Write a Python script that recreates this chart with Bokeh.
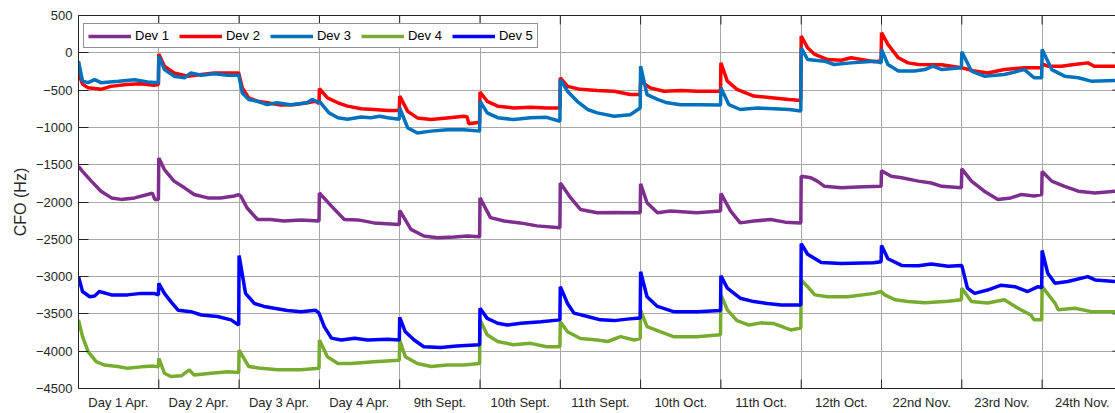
from bokeh.plotting import figure
from bokeh.models import (FixedTicker, LinearAxis, Legend, LegendItem, Range1d)
from bokeh.embed import file_html
from bokeh.resources import INLINE

# Measurement sessions (one band per capture day)
day_labels = ["Day 1 Apr.", "Day 2 Apr.", "Day 3 Apr.", "Day 4 Apr.", "9th Sept.",
              "10th Sept.", "11th Sept.", "10th Oct.", "11th Oct.", "12th Oct.",
              "22nd Nov.", "23rd Nov.", "24th Nov."]

# Time axis is in session units: session k spans [k, k+1)
dev1_t = [0, 0.05, 0.16, 0.28, 0.41, 0.53, 0.7, 0.86, 0.92, 0.95, 0.995,
          1.0, 1.07, 1.19, 1.32, 1.44, 1.61, 1.77, 1.94, 1.995,
          2.02, 2.1, 2.23, 2.39, 2.56, 2.77, 2.995,
          3.0, 3.15, 3.31, 3.48, 3.68, 3.995,
          4.0, 4.14, 4.3, 4.47, 4.68, 4.84, 4.995,
          5.0, 5.13, 5.3, 5.5, 5.71, 5.995,
          6.0, 6.13, 6.25, 6.46, 6.67, 6.995,
          7.0, 7.08, 7.21, 7.37, 7.7, 7.995,
          8.0, 8.12, 8.24, 8.41, 8.62, 8.8, 8.995,
          9.0, 9.12, 9.2, 9.29, 9.5, 9.7, 9.995,
          10.0, 10.12, 10.25, 10.46, 10.62, 10.75, 10.995,
          11.0, 11.12, 11.28, 11.45, 11.61, 11.74, 11.9, 11.995,
          12.0, 12.12, 12.28, 12.45, 12.66, 12.91]
dev1_cfo = [-1522, -1590, -1720, -1855, -1945, -1965, -1945, -1900, -1880, -1965, -1965,
            -1410, -1565, -1720, -1810, -1900, -1945, -1945, -1920, -1900,
            -1920, -2080, -2235, -2235, -2255, -2240, -2255,
            -1880, -2055, -2235, -2240, -2280, -2300,
            -2113, -2367, -2455, -2480, -2470, -2455, -2465,
            -1945, -2210, -2255, -2280, -2320, -2345,
            -1745, -1945, -2100, -2145, -2140, -2145,
            -1755, -2010, -2145, -2120, -2145, -2120,
            -1885, -2120, -2280, -2255, -2235, -2270, -2280,
            -1655, -1675, -1720, -1790, -1810, -1800, -1790,
            -1580, -1655, -1675, -1720, -1745, -1790, -1810,
            -1555, -1720, -1855, -1965, -1945, -1900, -1920, -1900,
            -1590, -1720, -1790, -1855, -1880, -1855]

dev2_t = [0, 0.05, 0.12, 0.28, 0.4, 0.6, 0.77, 0.94, 0.995,
          1.0, 1.07, 1.19, 1.36, 1.53, 1.69, 1.86, 1.995,
          2.04, 2.12, 2.23, 2.35, 2.52, 2.68, 2.85, 2.95, 2.995,
          3.0, 3.1, 3.23, 3.35, 3.52, 3.68, 3.85, 3.995,
          4.0, 4.1, 4.22, 4.39, 4.59, 4.8, 4.84, 4.86, 4.995,
          5.0, 5.09, 5.22, 5.42, 5.63, 5.83, 5.995,
          6.0, 6.09, 6.25, 6.46, 6.67, 6.87, 6.995,
          7.0, 7.12, 7.29, 7.5, 7.71, 7.995,
          8.0, 8.08, 8.2, 8.41, 8.66, 8.85, 8.995,
          9.0, 9.08, 9.17, 9.33, 9.5, 9.62, 9.75, 9.91, 9.995,
          10.0, 10.08, 10.21, 10.33, 10.46, 10.75, 10.995,
          11.0, 11.16, 11.32, 11.53, 11.78, 11.995,
          12.0, 12.07, 12.24, 12.4, 12.57, 12.65, 12.91]
dev2_cfo = [-270, -420, -470, -490, -450, -425, -415, -435, -425,
            -15, -180, -270, -313, -290, -270, -270, -270,
            -470, -605, -650, -670, -700, -695, -670, -650, -680,
            -480, -605, -670, -715, -750, -760, -775, -775,
            -580, -785, -873, -895, -873, -850, -860, -950, -930,
            -525, -650, -715, -740, -730, -740, -740,
            -335, -450, -490, -505, -515, -560, -560,
            -380, -470, -515, -505, -515, -515,
            -135, -380, -490, -580, -605, -625, -640,
            225, 67, -22, -90, -100, -67, -90, -120, -110,
            270, 112, -67, -135, -157, -160, -200,
            -200, -245, -270, -225, -200, -200,
            -150, -180, -180, -157, -135, -180, -180]

dev3_t = [0, 0.05, 0.12, 0.2, 0.28, 0.5, 0.7, 0.86, 0.995,
          1.0, 1.07, 1.19, 1.32, 1.4, 1.53, 1.69, 1.86, 1.995,
          2.04, 2.12, 2.23, 2.35, 2.47, 2.64, 2.85, 2.91, 2.995,
          3.0, 3.12, 3.23, 3.35, 3.52, 3.64, 3.75, 3.85, 3.995,
          4.0, 4.1, 4.22, 4.39, 4.59, 4.8, 4.995,
          5.0, 5.09, 5.22, 5.42, 5.63, 5.83, 5.995,
          6.0, 6.09, 6.21, 6.34, 6.46, 6.67, 6.87, 6.995,
          7.0, 7.08, 7.21, 7.33, 7.5, 7.71, 7.995,
          8.0, 8.1, 8.24, 8.45, 8.66, 8.85, 8.995,
          9.0, 9.08, 9.29, 9.41, 9.62, 9.91, 9.995,
          10.0, 10.08, 10.21, 10.41, 10.54, 10.64, 10.75, 10.995,
          11.0, 11.12, 11.28, 11.53, 11.7, 11.78, 11.9, 11.995,
          12.0, 12.12, 12.28, 12.45, 12.61, 12.91]
dev3_cfo = [-112, -380, -400, -360, -400, -380, -360, -390, -400,
            -45, -225, -313, -335, -270, -300, -280, -300, -300,
            -540, -625, -650, -695, -670, -695, -670, -625, -670,
            -650, -805, -870, -890, -860, -870, -850, -870, -890,
            -740, -1007, -1075, -1050, -1030, -1030, -1050,
            -650, -805, -870, -895, -870, -865, -918,
            -360, -515, -650, -760, -805, -850, -830, -740,
            -180, -560, -625, -670, -695, -695, -700,
            -470, -695, -760, -740, -750, -760, -780,
            67, -90, -112, -157, -135, -112, -135,
            45, -157, -245, -245, -225, -180, -225, -200,
            13, -245, -313, -290, -245, -225, -335, -335,
            45, -225, -313, -335, -380, -370]

dev4_t = [0, 0.05, 0.12, 0.22, 0.32, 0.49, 0.61, 0.78, 0.94, 0.995,
          1.0, 1.07, 1.15, 1.28, 1.38, 1.44, 1.65, 1.86, 1.995,
          2.0, 2.06, 2.12, 2.27, 2.48, 2.77, 2.995,
          3.0, 3.1, 3.23, 3.39, 3.68, 3.995,
          4.0, 4.07, 4.22, 4.39, 4.59, 4.8, 4.995,
          5.0, 5.09, 5.22, 5.42, 5.63, 5.83, 5.995,
          6.0, 6.09, 6.25, 6.46, 6.59, 6.75, 6.92, 6.995,
          7.0, 7.08, 7.25, 7.41, 7.7, 7.995,
          8.0, 8.08, 8.2, 8.35, 8.5, 8.66, 8.87, 8.995,
          9.0, 9.08, 9.17, 9.33, 9.58, 9.91, 9.995,
          10.04, 10.17, 10.33, 10.54, 10.83, 10.995,
          11.0, 11.12, 11.32, 11.53, 11.7, 11.86, 11.9, 11.995,
          12.0, 12.16, 12.2, 12.41, 12.61, 12.91]
dev4_cfo = [-3580, -3805, -4005, -4140, -4185, -4205, -4230, -4210, -4200, -4210,
            -4095, -4295, -4340, -4330, -4250, -4320, -4295, -4275, -4285,
            -3985, -4095, -4205, -4230, -4250, -4250, -4230,
            -3850, -4075, -4165, -4165, -4140, -4120,
            -3850, -4075, -4165, -4205, -4185, -4185, -4165,
            -3580, -3780, -3870, -3915, -3895, -3940, -3940,
            -3605, -3740, -3830, -3850, -3870, -3805, -3850, -3830,
            -3450, -3670, -3740, -3805, -3805, -3780,
            -3245, -3445, -3590, -3650, -3620, -3630, -3715, -3690,
            -3045, -3135, -3245, -3270, -3270, -3225, -3200,
            -3245, -3310, -3335, -3350, -3330, -3310,
            -3155, -3335, -3355, -3310, -3425, -3515, -3580, -3580,
            -3135, -3355, -3445, -3425, -3470, -3470]

dev5_t = [0, 0.05, 0.14, 0.2, 0.26, 0.41, 0.61, 0.78, 0.94, 0.995,
          1.0, 1.07, 1.15, 1.24, 1.4, 1.53, 1.73, 1.9, 1.995,
          2.0, 2.08, 2.19, 2.31, 2.44, 2.6, 2.77, 2.95, 2.995,
          3.06, 3.15, 3.27, 3.44, 3.6, 3.85, 3.995,
          4.0, 4.07, 4.18, 4.3, 4.51, 4.71, 4.995,
          5.0, 5.09, 5.22, 5.34, 5.51, 5.76, 5.995,
          6.0, 6.09, 6.17, 6.34, 6.5, 6.67, 6.83, 6.995,
          7.0, 7.08, 7.21, 7.41, 7.7, 7.995,
          8.0, 8.08, 8.24, 8.41, 8.58, 8.75, 8.995,
          9.0, 9.08, 9.25, 9.5, 9.9, 9.995,
          10.0, 10.08, 10.25, 10.46, 10.62, 10.83, 10.995,
          11.0, 11.07, 11.16, 11.32, 11.49, 11.66, 11.82, 11.95, 11.995,
          12.0, 12.07, 12.16, 12.32, 12.57, 12.66, 12.91]
dev5_cfo = [-3000, -3200, -3270, -3260, -3200, -3245, -3245, -3225, -3225, -3245,
            -3090, -3225, -3335, -3450, -3470, -3515, -3535, -3580, -3650,
            -2717, -3225, -3360, -3400, -3425, -3455, -3470, -3450, -3490,
            -3670, -3825, -3850, -3825, -3850, -3840, -3850,
            -3545, -3740, -3850, -3940, -3950, -3930, -3915,
            -3425, -3560, -3625, -3650, -3625, -3605, -3580,
            -3135, -3360, -3490, -3535, -3580, -3590, -3570, -3555,
            -2935, -3270, -3400, -3470, -3470, -3455,
            -2990, -3155, -3290, -3335, -3360, -3380, -3380,
            -2560, -2700, -2810, -2825, -2815, -2800,
            -2585, -2760, -2850, -2855, -2830, -2860, -2850,
            -2850, -3155, -3225, -3180, -3115, -3135, -3200, -3135, -3150,
            -2650, -2955, -3090, -3065, -3000, -3045, -3065]

series = [
    ("Dev 1", dev1_t, dev1_cfo, "#7E2F8E"),
    ("Dev 2", dev2_t, dev2_cfo, "#FF0000"),
    ("Dev 3", dev3_t, dev3_cfo, "#0072BD"),
    ("Dev 4", dev4_t, dev4_cfo, "#77AC30"),
    ("Dev 5", dev5_t, dev5_cfo, "#0000FF"),
]

FONT = "Liberation Sans"
AXIS_COLOR = "#262626"
n_days = len(day_labels)
boundaries = list(range(n_days + 1))
centers = [i + 0.5 for i in range(n_days)]
y_ticks = list(range(-4500, 501, 500))

Y_LO, Y_HI = -4500, 500
X_LO, X_HI = 0, 12.914
FRAME_W, FRAME_H = 1037, 373
TICK_PX = 9

p = figure(width=1115, height=413, output_backend="svg", toolbar_location=None,
           x_range=Range1d(X_LO, X_HI), y_range=Range1d(Y_LO, Y_HI),
           min_border_left=78, min_border_right=0, min_border_top=15,
           min_border_bottom=25, background_fill_color="white")
p.outline_line_color = None

# grid
p.xgrid.ticker = FixedTicker(ticks=boundaries)
p.ygrid.ticker = FixedTicker(ticks=y_ticks)
for g in (p.xgrid[0], p.ygrid[0]):
    g.grid_line_color = "#a8a8a8"
    g.grid_line_width = 1

# bottom axis: session names centred in each band, tick marks drawn separately
xa = p.xaxis[0]
xa.ticker = FixedTicker(ticks=centers)
xa.major_label_overrides = {c: s for c, s in zip(centers, day_labels)}
xa.major_tick_line_color = None
xa.major_tick_out = 0
xa.major_tick_in = 0
xa.minor_tick_line_color = None
xa.axis_line_color = AXIS_COLOR
xa.major_label_standoff = 6
xa.major_label_text_font = FONT
xa.major_label_text_font_size = "13px"
xa.major_label_text_color = AXIS_COLOR

# top border line
top_axis = LinearAxis(ticker=FixedTicker(ticks=[]), major_tick_in=0, major_tick_out=0,
                      minor_tick_line_color=None, major_tick_line_color=None,
                      axis_line_color=AXIS_COLOR)
p.add_layout(top_axis, "above")

ya = p.yaxis[0]
ya.ticker = FixedTicker(ticks=y_ticks)
ya.major_tick_in = 10
ya.major_tick_out = 0
ya.minor_tick_line_color = None
ya.axis_line_color = AXIS_COLOR
ya.major_tick_line_color = AXIS_COLOR
ya.major_label_text_font = FONT
ya.major_label_text_font_size = "13px"
ya.major_label_text_color = AXIS_COLOR
ya.major_label_standoff = 6
ya.axis_label = "CFO (Hz)"
ya.axis_label_text_font = FONT
ya.axis_label_text_font_size = "16px"
ya.axis_label_text_font_style = "normal"
ya.axis_label_text_color = AXIS_COLOR
ya.axis_label_standoff = 4

# inward tick marks on the top/bottom borders (session boundaries) and the right border
dy = TICK_PX * (Y_HI - Y_LO) / FRAME_H
dx = 10 * (X_HI - X_LO) / FRAME_W
p.segment(x0=boundaries, x1=boundaries, y0=[Y_HI] * len(boundaries),
          y1=[Y_HI - dy] * len(boundaries), line_color=AXIS_COLOR, line_width=1)
p.segment(x0=boundaries, x1=boundaries, y0=[Y_LO] * len(boundaries),
          y1=[Y_LO + dy] * len(boundaries), line_color=AXIS_COLOR, line_width=1)
p.segment(x0=[n_days] * len(y_ticks), x1=[n_days - dx] * len(y_ticks),
          y0=y_ticks, y1=y_ticks, line_color=AXIS_COLOR, line_width=1)

items = []
for name, t, v, color in series:
    r = p.line(t, v, line_color=color, line_width=3.5)
    items.append(LegendItem(label=name, renderers=[r]))

legend = Legend(items=items, orientation="horizontal", location=(5, FRAME_H - 9 - 24),
                glyph_width=43, glyph_height=14, label_standoff=4, spacing=10,
                padding=4, margin=0, label_text_font=FONT,
                label_text_font_size="13px", label_text_color="#000000",
                border_line_color=AXIS_COLOR, border_line_width=1,
                background_fill_color="white", background_fill_alpha=1)
p.add_layout(legend, "center")

open("out.html", "w").write(file_html(p, INLINE))
